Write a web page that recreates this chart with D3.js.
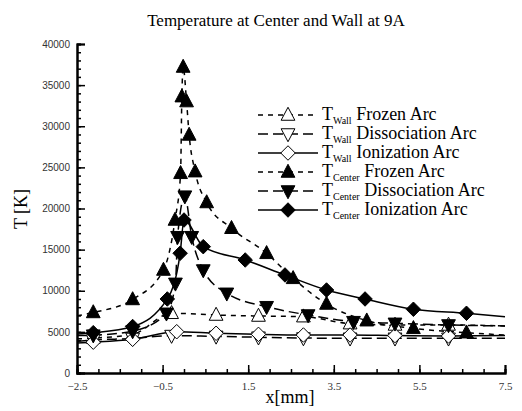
<!DOCTYPE html>
<html>
<head>
<meta charset="utf-8">
<script src="https://cdn.jsdelivr.net/npm/d3@7"></script>
<style>
  html, body { margin: 0; padding: 0; background: #fff; }
  svg { display: block; }
</style>
</head>
<body>
<svg id="chart" width="522" height="411"></svg>
<script>
// Axial position x [mm] and temperature T [K] for each run.
const xWallFrozen = [-2.5, -2.12, -1.2, -0.29, 0.75, 1.74, 2.79, 3.88, 4.93, 6.18, 7.5];
const tWallFrozen = [4150, 4250, 4700, 7260, 7050, 6930, 6850, 6000, 5840, 5840, 5720];

const xWallDiss = [-2.5, -2.12, -1.2, -0.29, 0.75, 1.74, 2.79, 3.88, 4.93, 6.18, 7.5];
const tWallDiss = [3850, 4010, 4200, 4550, 4450, 4350, 4250, 4220, 4220, 4220, 4220];

const xWallIon = [-2.5, -2.12, -1.2, -0.17, 0.75, 1.74, 2.79, 3.88, 4.93, 6.18, 7.5];
const tWallIon = [3650, 3750, 4100, 5020, 4830, 4700, 4620, 4620, 4550, 4500, 4550];

const xCenterFrozen = [-2.5, -2.12, -1.2, -0.48, -0.21, -0.08, -0.05, -0.02, 0.06, 0.12, 0.26, 0.53, 1.11, 1.93, 2.55, 3.33, 4.27, 5.36, 6.6, 7.5];
const tCenterFrozen = [6950, 7360, 8940, 12520, 18600, 24280, 33600, 37200, 33000, 28940, 24480, 20730, 17600, 14550, 11510, 8390, 6360, 5430, 4900, 4620];

const xCenterDiss = [-2.5, -2.12, -1.2, -0.41, -0.2, -0.15, 0.02, 0.18, 0.45, 1.0, 1.93, 2.9, 3.96, 4.93, 6.18, 7.5];
const tCenterDiss = [4550, 4600, 5100, 7260, 10900, 16570, 21500, 16570, 12520, 9690, 8060, 7050, 6240, 6040, 5840, 5720];

const xCenterIon = [-2.5, -2.12, -1.2, -0.39, -0.09, 0.0, 0.45, 1.43, 2.36, 3.33, 4.23, 5.36, 6.6, 7.5];
const tCenterIon = [4750, 4900, 5650, 9000, 14560, 18600, 15360, 13740, 11920, 10090, 9000, 7750, 7260, 6850];

const seriesNames = ["Frozen Arc", "Dissociation Arc", "Ionization Arc"];
const xTickValues = [-2.5, -0.5, 1.5, 3.5, 5.5, 7.5];
const yTickValues = [0, 5000, 10000, 15000, 20000, 25000, 30000, 35000, 40000];

const series = [
  { loc: "Wall",   name: seriesNames[0], xs: xWallFrozen,   ts: tWallFrozen,   dash: "5,5",  sym: "up",      fill: "#fff" },
  { loc: "Wall",   name: seriesNames[1], xs: xWallDiss,     ts: tWallDiss,     dash: "10,5", sym: "down",    fill: "#fff" },
  { loc: "Wall",   name: seriesNames[2], xs: xWallIon,      ts: tWallIon,      dash: null,   sym: "diamond", fill: "#fff" },
  { loc: "Center", name: seriesNames[0], xs: xCenterFrozen, ts: tCenterFrozen, dash: "5,5",  sym: "up",      fill: "#000" },
  { loc: "Center", name: seriesNames[1], xs: xCenterDiss,   ts: tCenterDiss,   dash: "10,5", sym: "down",    fill: "#000" },
  { loc: "Center", name: seriesNames[2], xs: xCenterIon,    ts: tCenterIon,    dash: null,   sym: "diamond", fill: "#000" }
];

const svg = d3.select("#chart");
const x = d3.scaleLinear().domain([-2.5, 7.5]).range([77, 505]);
const y = d3.scaleLinear().domain([0, 40000]).range([373, 44]);
const serif = "Liberation Serif, Times New Roman, serif";

// Title
svg.append("text")
  .attr("x", 276).attr("y", 26)
  .attr("text-anchor", "middle")
  .attr("font-family", serif)
  .attr("font-size", 17)
  .text("Temperature at Center and Wall at 9A");

// Marker shapes
function markerPath(sym, s) {
  if (sym === "up") return `M0,${-s*0.62}L${s*0.55},${s*0.42}L${-s*0.55},${s*0.42}Z`;
  if (sym === "down") return `M0,${s*0.62}L${s*0.55},${-s*0.42}L${-s*0.55},${-s*0.42}Z`;
  return `M0,${-s*0.58}L${s*0.58},0L0,${s*0.58}L${-s*0.58},0Z`;
}
const MS = 12.5;

const line = d3.line()
  .x(d => x(d[0])).y(d => y(d[1]))
  .curve(d3.curveMonotoneX);

const plot = svg.append("g");
series.forEach(s => {
  const pts = s.xs.map((v, i) => [v, s.ts[i]]);
  plot.append("path")
    .attr("d", line(pts))
    .attr("fill", "none")
    .attr("stroke", "#000")
    .attr("stroke-width", 1.5)
    .attr("stroke-dasharray", s.dash);
});
series.forEach(s => {
  const pts = s.xs.map((v, i) => [v, s.ts[i]]).slice(1, -1);
  plot.selectAll(null).data(pts).enter().append("path")
    .attr("transform", d => `translate(${x(d[0])},${y(d[1])})`)
    .attr("d", markerPath(s.sym, MS))
    .attr("fill", s.fill)
    .attr("stroke", "#000")
    .attr("stroke-width", 1);
});

// Axes with inward ticks
const axisFont = "Liberation Sans Narrow, Liberation Sans, Arial, sans-serif";
const xMinor = d3.range(-2.5, 7.51, 0.5);
const yMinor = d3.range(0, 40001, 1000);

const xAxis = svg.append("g").attr("transform", "translate(0,373)");
xAxis.call(d3.axisBottom(x).tickValues(xMinor).tickSize(-4).tickFormat(""));
xAxis.append("g").call(d3.axisBottom(x).tickValues(xTickValues).tickSize(-8).tickFormat(d3.format(".1f")));
xAxis.selectAll(".domain").attr("stroke-width", 2);
xAxis.selectAll(".tick line").attr("stroke-width", 1.5);
xAxis.selectAll(".tick text")
  .attr("y", 9)
  .attr("font-family", serif).attr("font-size", 11).attr("fill", "#333");

const yAxis = svg.append("g").attr("transform", "translate(77,0)");
yAxis.call(d3.axisLeft(y).tickValues(yMinor).tickSize(-4).tickFormat(""));
yAxis.append("g").call(d3.axisLeft(y).tickValues(yTickValues).tickSize(-8).tickFormat(d3.format("d")));
yAxis.selectAll(".domain").attr("stroke-width", 2);
yAxis.selectAll(".tick line").attr("stroke-width", 1.5);
yAxis.selectAll(".tick text")
  .attr("x", -7)
  .attr("font-family", axisFont).attr("font-size", 10).attr("fill", "#333");

// Axis titles
svg.append("text")
  .attr("transform", "translate(27,209) rotate(-90)")
  .attr("text-anchor", "middle")
  .attr("font-family", serif)
  .attr("font-size", 18)
  .text("T [K]");
svg.append("text")
  .attr("x", 290).attr("y", 403)
  .attr("text-anchor", "middle")
  .attr("font-family", serif)
  .attr("font-size", 18)
  .text("x[mm]");

// Legend
const legend = svg.append("g").attr("transform", "translate(258,115)");
series.forEach((s, i) => {
  const g = legend.append("g").attr("transform", `translate(0,${i * 19})`);
  g.append("line").attr("x1", 0).attr("x2", 60).attr("y1", 0).attr("y2", 0)
    .attr("stroke", "#000").attr("stroke-width", 1.5).attr("stroke-dasharray", s.dash);
  g.append("path").attr("transform", "translate(30,0)")
    .attr("d", markerPath(s.sym, MS))
    .attr("fill", s.fill).attr("stroke", "#000").attr("stroke-width", 1);
  const t = g.append("text").attr("x", 64).attr("y", 5)
    .attr("font-family", serif)
    .attr("font-size", 18);
  t.append("tspan").text("T");
  t.append("tspan").attr("dy", 4).attr("font-size", 10).text(s.loc);
  t.append("tspan").attr("dy", -4).text(" " + s.name);
});
</script>
</body>
</html>
